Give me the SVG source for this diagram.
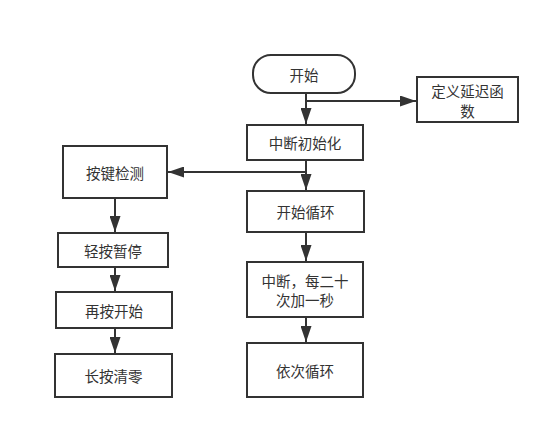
<svg xmlns="http://www.w3.org/2000/svg" width="554" height="434" viewBox="0 0 554 434">
<style>
.box{fill:#fff;stroke:#333;stroke-width:2}
.t{font-family:"Noto Sans CJK SC","Noto Sans",sans-serif;font-size:14.5px;fill:#333;text-anchor:middle;dominant-baseline:central}
.ln{fill:none;stroke:#333;stroke-width:2}
</style>
<defs>
<marker id="ah" viewBox="0 0 16 11" refX="16" refY="5.5" markerWidth="16" markerHeight="11" markerUnits="userSpaceOnUse" orient="auto">
<path d="M0,0 L16,5.5 L0,11 Z" fill="#333"/>
</marker>
</defs>
<rect width="554" height="434" fill="#fff"/>
<g id="connectors">
<path class="ln" d="M306,93 V124" marker-end="url(#ah)"/>
<path class="ln" d="M306,101 H416" marker-end="url(#ah)"/>
<path class="ln" d="M306,160 V190" marker-end="url(#ah)"/>
<path class="ln" d="M306,172 H168" marker-end="url(#ah)"/>
<path class="ln" d="M306,232 V261" marker-end="url(#ah)"/>
<path class="ln" d="M306,317 V342" marker-end="url(#ah)"/>
<path class="ln" d="M115,198 V232" marker-end="url(#ah)"/>
<path class="ln" d="M115,267 V291" marker-end="url(#ah)"/>
<path class="ln" d="M115,328 V353" marker-end="url(#ah)"/>
</g>
<g id="start">
<rect class="box" x="253" y="55" width="102" height="38" rx="18"/>
<text class="t" x="304" y="74">开始</text>
</g>
<g id="delay">
<rect class="box" x="417" y="77" width="101" height="45"/>
<text class="t" x="467.5" y="90">定义延迟函</text>
<text class="t" x="467.5" y="110">数</text>
</g>
<g id="init">
<rect class="box" x="247" y="125" width="116" height="35"/>
<text class="t" x="305" y="142.5">中断初始化</text>
</g>
<g id="loop">
<rect class="box" x="247" y="191" width="117" height="41"/>
<text class="t" x="305.5" y="211.5">开始循环</text>
</g>
<g id="interrupt">
<rect class="box" x="247" y="262" width="116" height="55"/>
<text class="t" x="305" y="280">中断，每二十</text>
<text class="t" x="305" y="299">次加一秒</text>
</g>
<g id="cycle">
<rect class="box" x="247" y="343" width="116" height="54"/>
<text class="t" x="305" y="370">依次循环</text>
</g>
<g id="key">
<rect class="box" x="63" y="146" width="104" height="52"/>
<text class="t" x="115" y="172">按键检测</text>
</g>
<g id="pause">
<rect class="box" x="58" y="233" width="110" height="34"/>
<text class="t" x="113" y="250">轻按暂停</text>
</g>
<g id="resume">
<rect class="box" x="56" y="292" width="116" height="36"/>
<text class="t" x="114" y="310">再按开始</text>
</g>
<g id="clear">
<rect class="box" x="55" y="354" width="117" height="43"/>
<text class="t" x="113.5" y="375.5">长按清零</text>
</g>
</svg>
